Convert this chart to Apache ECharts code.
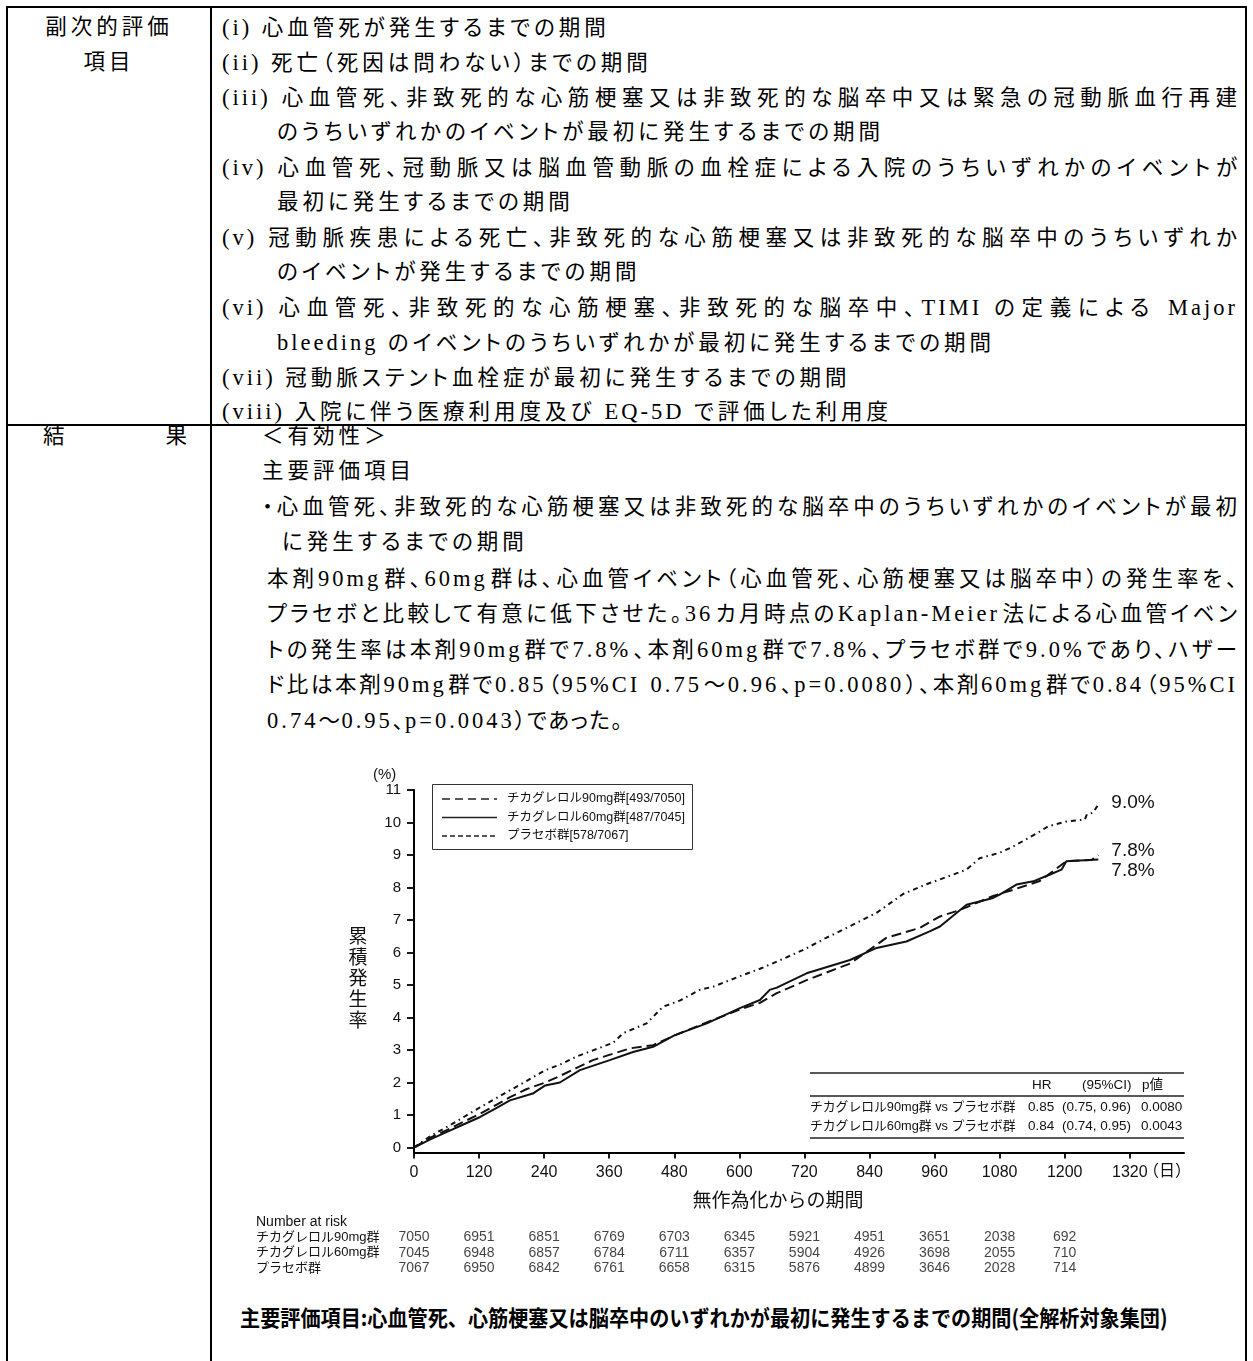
<!DOCTYPE html>
<html><head><meta charset="utf-8">
<script src="https://cdn.jsdelivr.net/npm/echarts@6/dist/echarts.min.js"></script>
<style>
html,body{margin:0;padding:0;background:#fff;}
#page{position:relative;width:1253px;height:1361px;overflow:hidden;background:#fff;}
.hl{position:absolute;background:#000;height:2px;}
.vl{position:absolute;background:#000;width:2px;}
.t{position:absolute;height:35px;line-height:35px;font-family:"Liberation Serif","Noto Sans CJK JP",serif;font-size:21.5px;color:#000;white-space:nowrap;letter-spacing:4px;font-feature-settings:"palt";overflow:hidden;}
.t .l{letter-spacing:3px;font-size:22.5px;}
.j{white-space:normal;letter-spacing:1px;text-align:justify;text-align-last:justify;}
.c{text-align:center;}
#chart{position:absolute;left:0;top:0;width:1253px;height:1361px;}
.cap{position:absolute;left:240px;top:1303px;height:26px;line-height:26px;font-family:"Noto Sans CJK JP",sans-serif;font-weight:bold;font-size:22px;white-space:nowrap;transform:scaleX(0.915);transform-origin:left center;color:#000;}
</style></head>
<body><div id="page">
<div class="hl" style="left:6px;top:6px;width:1241px"></div>
<div class="hl" style="left:6px;top:424px;width:1241px"></div>
<div class="vl" style="left:6px;top:6px;height:1355px"></div>
<div class="vl" style="left:210px;top:6px;height:1355px"></div>
<div class="vl" style="left:1245px;top:6px;height:1355px"></div>

<div class="t c" style="left:8px;width:202px;top:9.5px">副次的評価</div>
<div class="t c" style="left:8px;width:202px;top:44.5px">項目</div>
<div class="t j" style="left:43px;width:144px;top:418.5px;letter-spacing:0">結果</div>

<div class="t" style="left:222px;top:9.5px">(i) 心血管死が発生するまでの期間</div>
<div class="t" style="left:222px;top:44.5px">(ii) 死亡（死因は問わない）までの期間</div>
<div class="t j" style="left:222px;width:1016px;top:79.5px">(iii) 心血管死、非致死的な心筋梗塞又は非致死的な脳卒中又は緊急の冠動脈血行再建</div>
<div class="t" style="left:277px;top:114.5px">のうちいずれかのイベントが最初に発生するまでの期間</div>
<div class="t j" style="left:222px;width:1016px;top:149.5px">(iv) 心血管死、冠動脈又は脳血管動脈の血栓症による入院のうちいずれかのイベントが</div>
<div class="t" style="left:277px;top:184.5px">最初に発生するまでの期間</div>
<div class="t j" style="left:222px;width:1016px;top:219.5px">(v) 冠動脈疾患による死亡、非致死的な心筋梗塞又は非致死的な脳卒中のうちいずれか</div>
<div class="t" style="left:277px;top:254.5px">のイベントが発生するまでの期間</div>
<div class="t j" style="left:222px;width:1016px;top:289.5px">(vi) 心血管死、非致死的な心筋梗塞、非致死的な脳卒中、TIMI の定義による Major</div>
<div class="t" style="left:277px;top:324.5px">bleeding のイベントのうちいずれかが最初に発生するまでの期間</div>
<div class="t" style="left:222px;top:359.5px">(vii) 冠動脈ステント血栓症が最初に発生するまでの期間</div>
<div class="t" style="left:222px;top:393.5px">(viii) 入院に伴う医療利用度及び EQ-5D で評価した利用度</div>

<div class="t" style="left:262px;top:418.5px">＜有効性＞</div>
<div class="t" style="left:262px;top:454px">主要評価項目</div>
<div class="t j" style="left:262px;width:976px;top:489.5px">・心血管死、非致死的な心筋梗塞又は非致死的な脳卒中のうちいずれかのイベントが最初</div>
<div class="t" style="left:282px;top:525px">に発生するまでの期間</div>
<div class="t j" style="left:267px;width:971px;top:560.5px">本剤90mg群、60mg群は、心血管イベント（心血管死、心筋梗塞又は脳卒中）の発生率を、</div>
<div class="t j" style="left:267px;width:971px;top:596px">プラセボと比較して有意に低下させた。36カ月時点のKaplan-Meier法による心血管イベン</div>
<div class="t j" style="left:267px;width:971px;top:631.5px">トの発生率は本剤90mg群で7.8%、本剤60mg群で7.8%、プラセボ群で9.0%であり、ハザー</div>
<div class="t j" style="left:267px;width:971px;top:667px">ド比は本剤90mg群で0.85（95%CI 0.75～0.96、p=0.0080）、本剤60mg群で0.84（95%CI</div>
<div class="t" style="left:267px;top:702.5px;letter-spacing:1.5px">0.74～0.95、p=0.0043）であった。</div>

<div class="cap">主要評価項目:心血管死、心筋梗塞又は脳卒中のいずれかが最初に発生するまでの期間(全解析対象集団)</div>
<div id="chart"></div>
</div>
<script>
// ---- data ----
const seriesNames = ['チカグレロル90mg群[493/7050]', 'チカグレロル60mg群[487/7045]', 'プラセボ群[578/7067]'];
const endLabels = ['7.8%', '7.8%', '9.0%'];

const t90Days = [0, 30, 66, 90, 122, 150, 177, 208, 242, 269, 300, 330, 398, 441, 481, 540, 601, 638, 669, 724, 804, 871, 933, 970, 1007, 1068, 1105, 1154, 1203, 1250, 1262];
const t90Pct  = [0, 0.3, 0.58, 0.78, 1.04, 1.3, 1.55, 1.8, 2.0, 2.2, 2.45, 2.69, 3.05, 3.15, 3.45, 3.85, 4.25, 4.45, 4.75, 5.15, 5.66, 6.45, 6.76, 7.11, 7.31, 7.74, 7.93, 8.2, 8.81, 8.85, 9.0];

const t60Days = [0, 30, 66, 90, 122, 150, 177, 219, 242, 269, 306, 361, 404, 441, 481, 540, 601, 638, 656, 669, 724, 804, 853, 908, 951, 970, 1019, 1068, 1080, 1111, 1142, 1173, 1194, 1203, 1262];
const t60Pct  = [0, 0.25, 0.52, 0.7, 0.94, 1.2, 1.45, 1.66, 1.91, 2.0, 2.38, 2.69, 2.94, 3.1, 3.46, 3.82, 4.29, 4.54, 4.85, 4.92, 5.36, 5.77, 6.14, 6.34, 6.65, 6.8, 7.47, 7.68, 7.78, 8.09, 8.19, 8.4, 8.55, 8.81, 8.86];

const pboDays = [0, 30, 66, 90, 122, 150, 177, 208, 242, 269, 300, 330, 367, 386, 429, 459, 490, 527, 552, 607, 638, 669, 718, 760, 791, 853, 902, 945, 970, 1019, 1043, 1080, 1105, 1154, 1169, 1203, 1237, 1241, 1252, 1262];
const pboPct  = [0, 0.35, 0.68, 0.92, 1.24, 1.5, 1.76, 2.05, 2.38, 2.55, 2.8, 2.99, 3.22, 3.52, 3.82, 4.33, 4.52, 4.85, 4.95, 5.31, 5.5, 5.72, 6.08, 6.45, 6.7, 7.22, 7.8, 8.1, 8.25, 8.55, 8.9, 9.07, 9.26, 9.72, 9.88, 10.03, 10.09, 10.25, 10.3, 10.55];

const xTicks = [0, 120, 240, 360, 480, 600, 720, 840, 960, 1080, 1200, 1320];
const yTicks = [0, 1, 2, 3, 4, 5, 6, 7, 8, 9, 10, 11];

const riskDays   = [0, 120, 240, 360, 480, 600, 720, 840, 960, 1080, 1200];
const riskGroups = ['チカグレロル90mg群', 'チカグレロル60mg群', 'プラセボ群'];
const risk90  = [7050, 6951, 6851, 6769, 6703, 6345, 5921, 4951, 3651, 2038, 692];
const risk60  = [7045, 6948, 6857, 6784, 6711, 6357, 5904, 4926, 3698, 2055, 710];
const riskPbo = [7067, 6950, 6842, 6761, 6658, 6315, 5876, 4899, 3646, 2028, 714];

const hrHeader = ['HR', '(95%CI)', 'p値'];
const hrRows = [
  ['チカグレロル90mg群 vs プラセボ群', '0.85', '(0.75, 0.96)', '0.0080'],
  ['チカグレロル60mg群 vs プラセボ群', '0.84', '(0.74, 0.95)', '0.0043']
];

// Latin runs in the document text use the serif face
document.querySelectorAll('.t').forEach(el => {
  el.innerHTML = el.textContent.replace(/[\x21-\x7E]+(?: [\x21-\x7E]+)*/g, m => '<span class="l">' + m + '</span>');
});

// ---- chart ----
const FF = "'Liberation Sans', 'Noto Sans CJK JP', sans-serif";
const INK = '#111';
const zip = (a, b) => a.map((v, i) => [v, b[i]]);
const dashes = [[10, 5], 'solid', [5, 4, 1.5, 4]];
const legendDashes = [[8, 5], null, [5, 3]];

const lineSeries = [
  { d: zip(t90Days, t90Pct), off: [0, -4] },
  { d: zip(t60Days, t60Pct), off: [0, 11] },
  { d: zip(pboDays, pboPct), off: [0, -2] }
].map((s, i) => ({
  name: seriesNames[i], type: 'line', xAxisIndex: 0, yAxisIndex: 0, data: s.d,
  symbol: 'none', showSymbol: false, silent: true,
  lineStyle: { color: INK, width: 2, type: dashes[i] },
  itemStyle: { color: INK },
  endLabel: { show: true, formatter: endLabels[i], distance: 13, offset: s.off,
              fontSize: 19, fontFamily: FF, color: INK }
}));

const riskSets = [risk90, risk60, riskPbo];
const riskSeries = riskSets.map((vals, g) => ({
  type: 'scatter', xAxisIndex: 1, yAxisIndex: 1, symbolSize: 2, silent: true,
  itemStyle: { color: 'rgba(0,0,0,0)' },
  data: riskDays.map((d, i) => [d, riskGroups[g], vals[i]]),
  label: { show: true, position: 'inside', formatter: p => String(p.value[2]),
           fontSize: 14, fontFamily: FF, color: INK }
}));

const G = [];
const txt = (x, y, text, o) => G.push({ type: 'text', x, y, silent: true,
  style: Object.assign({ text, fontSize: 14, fontFamily: FF, fill: INK, align: 'left', verticalAlign: 'middle' }, o || {}) });
const hline = (x1, x2, y, dash, w) => G.push({ type: 'line', silent: true, shape: { x1, y1: y, x2, y2: y },
  style: { stroke: '#222', lineWidth: w || 1.4, lineDash: dash || null } });

txt(373, 775, '(%)', { fontSize: 15 });
txt(358, 980, '累\n積\n発\n生\n率', { fontSize: 19, align: 'center', lineHeight: 21 });
txt(778, 1202, '無作為化からの期間', { fontSize: 19, align: 'center' });
txt(1143, 1172, '（日）', { fontSize: 16 });
txt(256, 1222, 'Number at risk', { fontSize: 14 });

// legend box
G.push({ type: 'rect', silent: true, shape: { x: 432.5, y: 784.5, width: 260, height: 65 },
  style: { fill: 'none', stroke: '#333', lineWidth: 1 } });
seriesNames.forEach((n, i) => {
  const y = 799 + i * 18.5;
  hline(442, 497, y, legendDashes[i], 1.6);
  txt(507, y, n, { fontSize: 12.5 });
});

// HR table
hline(810, 1184, 1073); hline(810, 1184, 1096); hline(810, 1184, 1138);
txt(1032, 1085, hrHeader[0], { fontSize: 13.5 });
txt(1082, 1085, hrHeader[1], { fontSize: 13.5 });
txt(1142, 1085, hrHeader[2], { fontSize: 13.5 });
hrRows.forEach((r, i) => {
  const y = 1107 + i * 19;
  txt(810, y, r[0], { fontSize: 12.8 });
  txt(1028, y, r[1], { fontSize: 13.5 });
  txt(1062, y, r[2], { fontSize: 13.5 });
  txt(1141, y, r[3], { fontSize: 13.5 });
});

const chart = echarts.init(document.getElementById('chart'), null, { renderer: 'canvas', width: 1253, height: 1361 });
chart.setOption({
  animation: false,
  backgroundColor: 'transparent',
  textStyle: { fontFamily: FF },
  grid: [
    { left: 414, top: 790, width: 770, height: 362.4, containLabel: false },
    { left: 414, top: 1229.5, width: 770, height: 46.5, containLabel: false }
  ],
  xAxis: [
    { type: 'value', gridIndex: 0, min: 0, max: 1420,
      axisLine: { show: true, onZero: false, lineStyle: { color: '#000', width: 2 } },
      axisTick: { show: true, length: 6, customValues: xTicks, lineStyle: { color: '#000', width: 1.8 } },
      axisLabel: { customValues: xTicks, formatter: v => String(v), fontSize: 16, color: INK, margin: 12, fontFamily: FF },
      splitLine: { show: false } },
    { type: 'value', gridIndex: 1, min: 0, max: 1420, show: false }
  ],
  yAxis: [
    { type: 'value', gridIndex: 0, min: -0.15, max: 11,
      axisLine: { show: true, onZero: false, lineStyle: { color: '#000', width: 2 } },
      axisTick: { show: true, length: 7, customValues: yTicks, lineStyle: { color: '#000', width: 1.8 } },
      axisLabel: { customValues: yTicks, formatter: v => String(v), fontSize: 15, color: INK, margin: 13, fontFamily: FF },
      splitLine: { show: false } },
    { type: 'category', gridIndex: 1, data: riskGroups, inverse: true,
      axisLine: { show: false }, axisTick: { show: false }, splitLine: { show: false },
      axisLabel: { interval: 0, align: 'left', margin: 158, fontSize: 13, color: INK, fontFamily: FF } }
  ],
  graphic: G,
  series: lineSeries.concat(riskSeries)
});
</script>
</body></html>
